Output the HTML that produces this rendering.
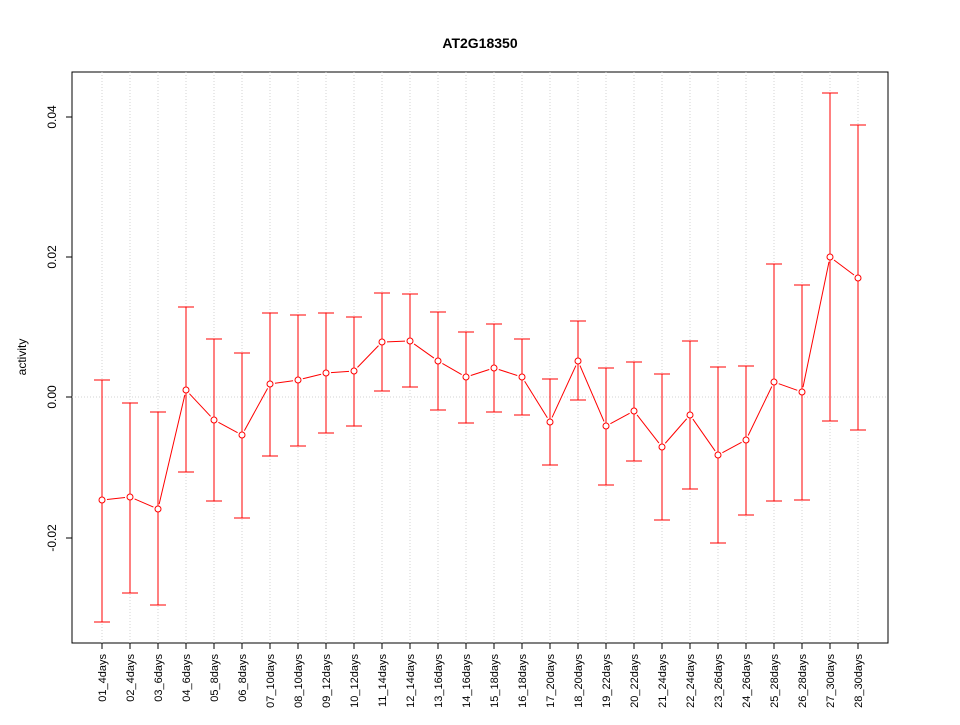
<!DOCTYPE html><html><head><style>body{margin:0;background:#fff}</style></head><body>
<svg id="s" width="960" height="720" xmlns="http://www.w3.org/2000/svg" font-family="Liberation Sans, sans-serif">
<text x="480" y="48" text-anchor="middle" font-weight="bold" font-size="14">AT2G18350</text>
<rect x="72" y="72" width="816" height="571" fill="none" stroke="#000"/>
<g font-size="12" text-anchor="middle">
<line x1="72" y1="117" x2="66" y2="117" stroke="#000"/><text transform="translate(56,117) rotate(-90)">0.04</text>
<line x1="72" y1="257" x2="66" y2="257" stroke="#000"/><text transform="translate(56,257) rotate(-90)">0.02</text>
<line x1="72" y1="397" x2="66" y2="397" stroke="#000"/><text transform="translate(56,397) rotate(-90)">0.00</text>
<line x1="72" y1="538" x2="66" y2="538" stroke="#000"/><text transform="translate(56,538) rotate(-90)">-0.02</text>
<text transform="translate(26,357) rotate(-90)">activity</text>
</g>
<g id="g"></g>
</svg>
<script>
var d=[[500,380,622],[497,403,593],[509,412,605],[390,307,472],[420,339,501],[435,353,518],[384,313,456],[380,315,446],[373,313,433],[371,317,426],[342,293,391],[341,294,387],[361,312,410],[377,332,423],[368,324,412],[377,339,415],[422,379,465],[361,321,400],[426,368,485],[411,362,461],[447,374,520],[415,341,489],[455,367,543],[440,366,515],[382,264,501],[392,285,500],[257,93,421],[278,125,430]];
var names=["01_4days","02_4days","03_6days","04_6days","05_8days","06_8days","07_10days","08_10days","09_12days","10_12days","11_14days","12_14days","13_16days","14_16days","15_18days","16_18days","17_20days","18_20days","19_22days","20_22days","21_24days","22_24days","23_26days","24_26days","25_28days","26_28days","27_30days","28_30days"];
var h='<line x1="72" y1="397" x2="888" y2="397" stroke="#d3d3d3" stroke-dasharray="1,2"/>';
for(var i=0;i<28;i++){var x=102+i*28;
h+='<line x1="'+x+'" y1="72" x2="'+x+'" y2="643" stroke="#d3d3d3" stroke-dasharray="1,2"/>';
h+='<line x1="'+x+'" y1="643" x2="'+x+'" y2="649" stroke="#000"/>';
h+='<text font-size="11" text-anchor="end" transform="translate('+(x+4)+',654) rotate(-90)">'+names[i]+'</text>';
}
for(var i=0;i<28;i++){var x=102+i*28,p=d[i];
h+='<line x1="'+x+'" y1="'+p[1]+'" x2="'+x+'" y2="'+p[2]+'" stroke="red"/>';
h+='<line x1="'+(x-8)+'" y1="'+p[1]+'" x2="'+(x+8)+'" y2="'+p[1]+'" stroke="red"/>';
h+='<line x1="'+(x-8)+'" y1="'+p[2]+'" x2="'+(x+8)+'" y2="'+p[2]+'" stroke="red"/>';
if(i<27){var x2=x+28,y1=p[0],y2=d[i+1][0],dx=28,dy=y2-y1,L=Math.sqrt(dx*dx+dy*dy),g=5;
h+='<line x1="'+(x+dx*g/L)+'" y1="'+(y1+dy*g/L)+'" x2="'+(x2-dx*g/L)+'" y2="'+(y2-dy*g/L)+'" stroke="red"/>';}
h+='<circle cx="'+x+'" cy="'+p[0]+'" r="3" fill="#fff" stroke="red"/>';
}
document.getElementById('g').innerHTML=h;
</script>
</body></html>
